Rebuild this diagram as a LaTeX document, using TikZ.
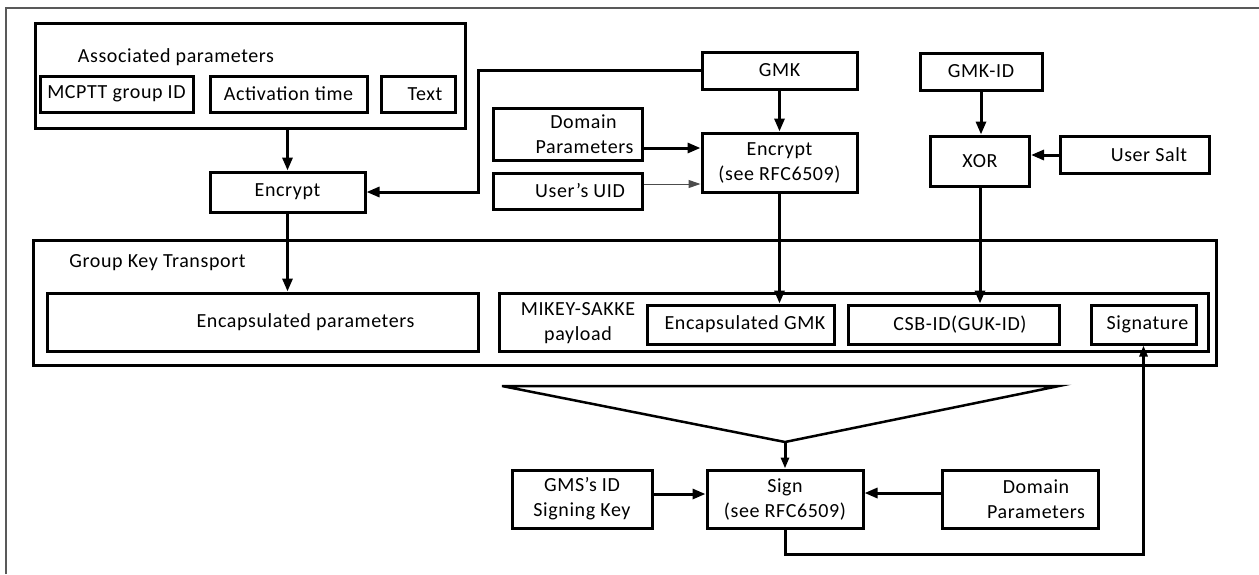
\documentclass[tikz,border=0pt]{standalone}
\usepackage{fontspec}
\setmainfont[LetterSpace=3]{Carlito}
\usetikzlibrary{arrows.meta}

\begin{document}
\begin{tikzpicture}[x=1pt,y=-1pt,line width=3pt,
>={Triangle[length=13pt,width=10pt]},
every node/.style={font=\fontsize{20}{25}\selectfont},
procblock/.style={draw,rectangle,inner sep=0pt,line width=3pt,align=center},
groupblock/.style={draw,rectangle,inner sep=0pt,line width=3pt},
thinarrow/.style={-{Triangle[length=12pt,width=8pt]},line width=1pt,black!70},
smallarrow/.style={-{Triangle[length=11pt,width=8pt]}}]

\useasboundingbox (0,0) rectangle (1259,574);
\draw[line width=2pt,black!65] (6,574) -- (6,8) -- (1259,8);

\draw (250,75.5) node[groupblock,minimum width=430pt,minimum height=105pt] (assoc) {};
\draw (176,57) node (assoclbl) {Associated parameters};
\draw (116.5,94) node[procblock,minimum width=153pt,minimum height=36pt] (mcptt) {MCPTT group ID};
\draw (288.5,94) node[procblock,minimum width=157pt,minimum height=36pt] (acttime) {Activation time};
\draw (418,94) node[procblock,minimum width=74pt,minimum height=36pt] (txt) {\hspace*{14pt}Text};
\draw (287.5,192) node[procblock,minimum width=155pt,minimum height=40pt] (enc) {Encrypt};

\draw (779.5,70.5) node[procblock,minimum width=155pt,minimum height=37pt] (gmk) {GMK};
\draw (567.5,134) node[procblock,minimum width=149pt,minimum height=52pt] (dom) {\hspace*{32pt}Domain\\\hspace*{34pt}Parameters};
\draw (567.5,191) node[procblock,minimum width=149pt,minimum height=36pt] (uid) {\hspace*{25pt}User’s UID};
\draw (779.5,162.5) node[procblock,minimum width=155pt,minimum height=59pt] (encrfc) {Encrypt\\(see RFC6509)};

\draw (981,71.5) node[procblock,minimum width=122pt,minimum height=37pt] (gmkid) {GMK-ID};
\draw (980,161) node[procblock,minimum width=99pt,minimum height=50pt] (xor) {XOR};
\draw (1134.5,155) node[procblock,minimum width=149pt,minimum height=37pt] (salt) {\hspace*{29pt}User Salt};

\draw (624.5,302.5) node[groupblock,minimum width=1183pt,minimum height=125pt] (gkt) {};
\draw (157.5,263) node (gktlbl) {Group Key Transport};
\draw (262.5,322) node[procblock,minimum width=431pt,minimum height=58pt] (encpar) {\hspace*{86pt}Encapsulated parameters};
\draw (853.5,322) node[groupblock,minimum width=709pt,minimum height=58pt] (mikey) {};
\draw (578,323) node[align=center] (mikeylbl) {MIKEY-SAKKE\\payload};
\draw (740.5,324.5) node[procblock,minimum width=187pt,minimum height=39pt] (encgmk) {\hspace*{9pt}Encapsulated GMK};
\draw (953.5,324.5) node[procblock,minimum width=211pt,minimum height=39pt] (csb) {\hspace*{13pt}CSB-ID(GUK-ID)};
\draw (1143.5,324.5) node[procblock,minimum width=105pt,minimum height=39pt] (sig) {\hspace*{8pt}Signature};

\draw (582,499) node[procblock,minimum width=140pt,minimum height=58pt] (gms) {GMS’s ID\\Signing Key};
\draw (785,499) node[procblock,minimum width=156pt,minimum height=58pt] (sign) {Sign\\(see RFC6509)};
\draw (1020,499) node[procblock,minimum width=156pt,minimum height=58pt] (dom2) {\hspace*{32pt}Domain\\\hspace*{32pt}Parameters};

\draw[line width=2.5pt] (502,386) coordinate (tl) -- (1059,386) coordinate (tr) -- (785,442) coordinate (apex) -- cycle;

\draw[->] (assoc.south -| enc.north) -- (enc.north);
\draw[->] (gmk.west) -- ++(-222pt,0) |- (enc.east);
\draw[->] (enc.south) -- (enc.south |- encpar.north);
\draw[->] (gmk.south) -- (encrfc.north);
\draw[->] ([yshift=-14pt]dom.east) -- ([yshift=-14pt]dom.east -| encrfc.west);
\draw[thinarrow] ([yshift=7pt]uid.east) -- ([yshift=7pt]uid.east -| encrfc.west);
\draw[->] (encrfc.south) -- (encrfc.south |- encgmk.north);
\draw[->] (gmkid.south) -- (gmkid.south |- xor.north);
\draw[->] (salt.west) -- (salt.west -| xor.east);
\draw[->] (xor.south) -- (xor.south |- csb.north);
\draw[smallarrow] (apex) -- (apex |- sign.north);
\draw[->] ([yshift=5pt]gms.east) -- ([yshift=5pt]gms.east -| sign.west);
\draw[->] ([yshift=6pt]dom2.west) -- ([yshift=6pt]dom2.west -| sign.east);
\draw[smallarrow] (sign.south) -- ++(0,-25pt) -| (sig.south);
\end{tikzpicture}
\end{document}
